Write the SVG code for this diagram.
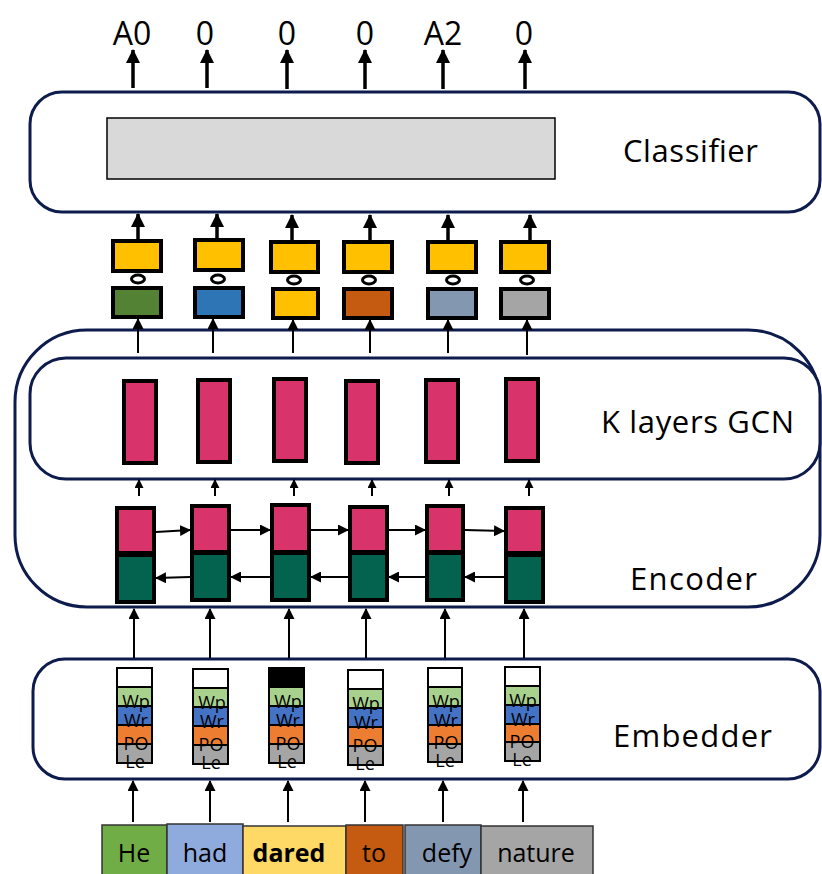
<svg xmlns="http://www.w3.org/2000/svg" width="822" height="874" viewBox="0 0 822 874">
<defs>
<marker id="ahb" markerUnits="userSpaceOnUse" markerWidth="14" markerHeight="14" refX="13" refY="7" orient="auto"><path d="M0,0 L14,7 L0,14 z" fill="#000"/></marker>
<marker id="ahm" markerUnits="userSpaceOnUse" markerWidth="11" markerHeight="11" refX="10" refY="5.5" orient="auto"><path d="M0,0 L11,5.5 L0,11 z" fill="#000"/></marker>
<marker id="ahs" markerUnits="userSpaceOnUse" markerWidth="9" markerHeight="9" refX="8" refY="4.5" orient="auto"><path d="M0,0 L9,4.5 L0,9 z" fill="#000"/></marker>
</defs>
<style>
text{font-family:"Open Sans","Liberation Sans",sans-serif;fill:#000}
.frame{fill:#fff;stroke:#0e1b4d;stroke-width:3}
.lbl{font-size:31px}
.out{font-size:32px;text-anchor:middle}
.thick{stroke:#000;stroke-width:4}
.pink{fill:#d9336c}
.dgreen{fill:#03634f}
.yel{fill:#ffc000}
.ring{fill:#fff;stroke:#000;stroke-width:3}
.emb{stroke:#000;stroke-width:2}
.et{font-size:18px;text-anchor:middle}
.word{stroke:#333;stroke-width:1.5}
.wt{font-size:25px;text-anchor:middle}
.a3{stroke:#000;stroke-width:3.5;fill:none;marker-end:url(#ahb)}
.a2{stroke:#000;stroke-width:2;fill:none;marker-end:url(#ahm)}
.a1{stroke:#000;stroke-width:2;fill:none;marker-end:url(#ahs)}
</style>
<rect width="822" height="874" fill="#fff"/>

<g id="encoder">
<rect class="frame" x="15" y="330" width="805" height="277" rx="72" ry="72"/>
<text class="lbl" x="630" y="590" textLength="127">Encoder</text>
</g>
<g id="gcn">
<rect class="frame" x="30" y="358" width="790" height="121" rx="36" ry="36"/>
<text class="lbl" x="601" y="433" textLength="193">K layers GCN</text>
</g>
<g id="classifier">
<rect class="frame" x="30" y="92" width="790" height="120" rx="32" ry="32"/>
<rect x="107" y="118" width="448" height="61" fill="#d9d9d9" stroke="#000" stroke-width="1.5"/>
<text class="lbl" x="623" y="162" textLength="135">Classifier</text>
</g>
<g id="embedder">
<rect class="frame" x="33" y="659" width="787" height="120" rx="32" ry="32"/>
<text class="lbl" x="613" y="747" textLength="159">Embedder</text>
</g>

<g id="outputs">
<text class="out" x="132" y="45">A0</text>
<text class="out" x="205" y="45">0</text>
<text class="out" x="287" y="45">0</text>
<text class="out" x="365" y="45">0</text>
<text class="out" x="443" y="45">A2</text>
<text class="out" x="524" y="45">0</text>
</g>

<g id="combined">
<rect class="thick yel" x="113" y="241" width="48" height="30"/>
<rect class="thick yel" x="195" y="240" width="48" height="30"/>
<rect class="thick yel" x="271" y="242" width="47" height="30"/>
<rect class="thick yel" x="344" y="242" width="48" height="30"/>
<rect class="thick yel" x="428" y="242" width="48" height="30"/>
<rect class="thick yel" x="501" y="242" width="48" height="30"/>
<ellipse class="ring" cx="138" cy="279" rx="6.5" ry="4"/>
<ellipse class="ring" cx="218" cy="279" rx="6.5" ry="4"/>
<ellipse class="ring" cx="294" cy="280" rx="6.5" ry="4"/>
<ellipse class="ring" cx="369" cy="280" rx="6.5" ry="4"/>
<ellipse class="ring" cx="453" cy="280" rx="6.5" ry="4"/>
<ellipse class="ring" cx="527" cy="280" rx="6.5" ry="4"/>
<rect class="thick" fill="#548235" x="113" y="288" width="48" height="29"/>
<rect class="thick" fill="#2e75b6" x="195" y="288" width="48" height="29"/>
<rect class="thick yel" x="273" y="289" width="45" height="29"/>
<rect class="thick" fill="#c55a11" x="344" y="289" width="48" height="29"/>
<rect class="thick" fill="#8497b0" x="428" y="289" width="48" height="29"/>
<rect class="thick" fill="#a5a5a5" x="501" y="289" width="48" height="29"/>
</g>

<g id="gcn-bars">
<rect class="thick pink" x="124" y="381" width="32" height="82"/>
<rect class="thick pink" x="198" y="380" width="32" height="82"/>
<rect class="thick pink" x="274" y="379" width="32" height="82"/>
<rect class="thick pink" x="346" y="381" width="32" height="82"/>
<rect class="thick pink" x="426" y="380" width="32" height="82"/>
<rect class="thick pink" x="506" y="379" width="32" height="82"/>
</g>

<g id="lstm">
<rect class="thick pink" x="117" y="508" width="37" height="45"/>
<rect class="thick dgreen" x="117" y="555" width="37" height="47"/>
<rect class="thick pink" x="192" y="506" width="37" height="46"/>
<rect class="thick dgreen" x="192" y="553" width="37" height="47"/>
<rect class="thick pink" x="272" y="505" width="37" height="47"/>
<rect class="thick dgreen" x="272" y="553" width="37" height="47"/>
<rect class="thick pink" x="350" y="507" width="37" height="45"/>
<rect class="thick dgreen" x="350" y="553" width="37" height="47"/>
<rect class="thick pink" x="427" y="506" width="36" height="46"/>
<rect class="thick dgreen" x="427" y="553" width="36" height="47"/>
<rect class="thick pink" x="506" y="508" width="37" height="45"/>
<rect class="thick dgreen" x="506" y="555" width="37" height="47"/>
</g>

<g id="embeddings">
<g id="emb1">
<rect class="emb" fill="#fff" x="117" y="668" width="35" height="19"/>
<rect class="emb" fill="#a9d18e" x="117" y="687" width="35" height="19"/>
<rect class="emb" fill="#4472c4" x="117" y="706" width="35" height="19"/>
<rect class="emb" fill="#ed7d31" x="117" y="725" width="35" height="19"/>
<rect class="emb" fill="#a5a5a5" x="117" y="744" width="35" height="19"/>
<text class="et" x="136" y="708">Wp</text><text class="et" x="136" y="727">Wr</text><text class="et" x="136" y="750">PO</text><text class="et" x="135" y="768">Le</text>
</g>
<g id="emb2">
<rect class="emb" fill="#fff" x="193" y="669" width="35" height="19"/>
<rect class="emb" fill="#a9d18e" x="193" y="688" width="35" height="19"/>
<rect class="emb" fill="#4472c4" x="193" y="707" width="35" height="19"/>
<rect class="emb" fill="#ed7d31" x="193" y="726" width="35" height="19"/>
<rect class="emb" fill="#a5a5a5" x="193" y="745" width="35" height="19"/>
<text class="et" x="212" y="709">Wp</text><text class="et" x="212" y="728">Wr</text><text class="et" x="211" y="751">PO</text><text class="et" x="211" y="769">Le</text>
</g>
<g id="emb3">
<rect class="emb" fill="#000" x="269" y="668" width="35" height="19"/>
<rect class="emb" fill="#a9d18e" x="269" y="687" width="35" height="19"/>
<rect class="emb" fill="#4472c4" x="269" y="706" width="35" height="19"/>
<rect class="emb" fill="#ed7d31" x="269" y="725" width="35" height="19"/>
<rect class="emb" fill="#a5a5a5" x="269" y="744" width="35" height="19"/>
<text class="et" x="288" y="708">Wp</text><text class="et" x="288" y="727">Wr</text><text class="et" x="288" y="750">PO</text><text class="et" x="287" y="768">Le</text>
</g>
<g id="emb4">
<rect class="emb" fill="#fff" x="348" y="670" width="35" height="19"/>
<rect class="emb" fill="#a9d18e" x="348" y="689" width="35" height="19"/>
<rect class="emb" fill="#4472c4" x="348" y="708" width="35" height="19"/>
<rect class="emb" fill="#ed7d31" x="348" y="727" width="35" height="19"/>
<rect class="emb" fill="#a5a5a5" x="348" y="746" width="35" height="19"/>
<text class="et" x="366" y="710">Wp</text><text class="et" x="366" y="729">Wr</text><text class="et" x="365" y="752">PO</text><text class="et" x="365" y="770">Le</text>
</g>
<g id="emb5">
<rect class="emb" fill="#fff" x="428" y="668" width="34" height="19"/>
<rect class="emb" fill="#a9d18e" x="428" y="687" width="34" height="19"/>
<rect class="emb" fill="#4472c4" x="428" y="706" width="34" height="19"/>
<rect class="emb" fill="#ed7d31" x="428" y="725" width="34" height="19"/>
<rect class="emb" fill="#a5a5a5" x="428" y="744" width="34" height="18"/>
<text class="et" x="446" y="708">Wp</text><text class="et" x="446" y="727">Wr</text><text class="et" x="446" y="749">PO</text><text class="et" x="445" y="767">Le</text>
</g>
<g id="emb6">
<rect class="emb" fill="#fff" x="505" y="667" width="35" height="19"/>
<rect class="emb" fill="#a9d18e" x="505" y="686" width="35" height="19"/>
<rect class="emb" fill="#4472c4" x="505" y="705" width="35" height="19"/>
<rect class="emb" fill="#ed7d31" x="505" y="724" width="35" height="18"/>
<rect class="emb" fill="#a5a5a5" x="505" y="742" width="35" height="19"/>
<text class="et" x="523" y="707">Wp</text><text class="et" x="523" y="726">Wr</text><text class="et" x="522" y="748">PO</text><text class="et" x="522" y="766">Le</text>
</g>
</g>

<g id="words">
<g id="w-he"><rect class="word" fill="#70ad47" x="102" y="825" width="65" height="60"/><text class="wt" x="134" y="862">He</text></g>
<g id="w-had"><rect class="word" fill="#8faadc" x="167" y="824" width="76" height="60"/><text class="wt" x="205" y="862">had</text></g>
<g id="w-dared"><rect class="word" fill="#ffd966" x="243" y="826" width="103" height="60"/><text class="wt" x="289" y="862" font-weight="bold">dared</text></g>
<g id="w-to"><rect class="word" fill="#c55a11" x="346" y="825" width="57" height="60"/><text class="wt" x="374" y="862">to</text></g>
<g id="w-defy"><rect class="word" fill="#8497b0" x="405" y="825" width="76" height="60"/><text class="wt" x="447" y="862">defy</text></g>
<g id="w-nature"><rect class="word" fill="#a5a5a5" x="481" y="826" width="112" height="60"/><text class="wt" x="536" y="862">nature</text></g>
</g>

<g id="connectors">
<line class="a3" x1="133" y1="88" x2="133" y2="50"/>
<line class="a3" x1="207" y1="88" x2="207" y2="50"/>
<line class="a3" x1="287" y1="89" x2="287" y2="50"/>
<line class="a3" x1="365" y1="89" x2="365" y2="50"/>
<line class="a3" x1="443" y1="89" x2="443" y2="50"/>
<line class="a3" x1="525" y1="89" x2="525" y2="50"/>

<line class="a3" x1="138" y1="239" x2="138" y2="214"/>
<line class="a3" x1="217" y1="238" x2="217" y2="214"/>
<line class="a3" x1="292" y1="240" x2="292" y2="215"/>
<line class="a3" x1="370" y1="240" x2="370" y2="215"/>
<line class="a3" x1="448" y1="240" x2="448" y2="215"/>
<line class="a3" x1="530" y1="240" x2="530" y2="215"/>

<line class="a2" x1="138" y1="353" x2="138" y2="319"/>
<line class="a2" x1="213" y1="353" x2="213" y2="319"/>
<line class="a2" x1="293" y1="353" x2="293" y2="320"/>
<line class="a2" x1="370" y1="353" x2="370" y2="320"/>
<line class="a2" x1="448" y1="353" x2="448" y2="320"/>
<line class="a2" x1="527" y1="355" x2="527" y2="320"/>

<line class="a1" x1="139" y1="496" x2="139" y2="480"/>
<line class="a1" x1="215" y1="496" x2="215" y2="480"/>
<line class="a1" x1="294" y1="496" x2="294" y2="480"/>
<line class="a1" x1="372" y1="496" x2="372" y2="480"/>
<line class="a1" x1="449" y1="496" x2="449" y2="480"/>
<line class="a1" x1="529" y1="496" x2="529" y2="480"/>

<line class="a2" x1="156" y1="532" x2="190" y2="530"/>
<line class="a2" x1="231" y1="530" x2="270" y2="530"/>
<line class="a2" x1="311" y1="530" x2="348" y2="530"/>
<line class="a2" x1="389" y1="530" x2="425" y2="530"/>
<line class="a2" x1="465" y1="530" x2="504" y2="531"/>

<line class="a2" x1="190" y1="577" x2="156" y2="578"/>
<line class="a2" x1="270" y1="577" x2="231" y2="577"/>
<line class="a2" x1="348" y1="577" x2="311" y2="577"/>
<line class="a2" x1="425" y1="577" x2="389" y2="577"/>
<line class="a2" x1="504" y1="577" x2="465" y2="577"/>

<line class="a2" x1="134" y1="658" x2="134" y2="609"/>
<line class="a2" x1="210" y1="658" x2="210" y2="609"/>
<line class="a2" x1="289" y1="658" x2="289" y2="609"/>
<line class="a2" x1="366" y1="658" x2="366" y2="609"/>
<line class="a2" x1="445" y1="658" x2="445" y2="609"/>
<line class="a2" x1="524" y1="658" x2="524" y2="609"/>

<line class="a2" x1="133" y1="822" x2="133" y2="781"/>
<line class="a2" x1="210" y1="822" x2="210" y2="781"/>
<line class="a2" x1="288" y1="822" x2="288" y2="781"/>
<line class="a2" x1="365" y1="822" x2="365" y2="781"/>
<line class="a2" x1="443" y1="822" x2="443" y2="781"/>
<line class="a2" x1="523" y1="822" x2="523" y2="781"/>
</g>
</svg>
